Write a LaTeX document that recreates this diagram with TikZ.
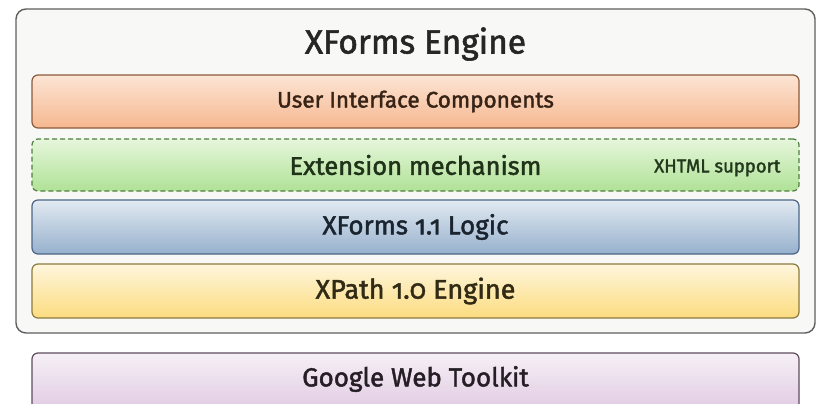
\documentclass[tikz,border=0pt]{standalone}
\usepackage{fontspec}
\setmainfont{Fira Sans}
\newfontfamily\layerfont{Fira Sans}[Numbers=OldStyle, FakeBold=1.7]
\usepackage{xcolor}
\usetikzlibrary{shadings}

\definecolor{frameline}{HTML}{5E6060}
\definecolor{framefill}{HTML}{F8F8F6}
\definecolor{uiline}{HTML}{8A5A3A}
\definecolor{uitop}{HTML}{FCE4D4}
\definecolor{uibot}{HTML}{F6B890}
\definecolor{extline}{HTML}{4F7F40}
\definecolor{exttop}{HTML}{E6F6DC}
\definecolor{extbot}{HTML}{B0E296}
\definecolor{logline}{HTML}{4A6686}
\definecolor{logtop}{HTML}{E2EAF2}
\definecolor{logbot}{HTML}{96B0CC}
\definecolor{xpline}{HTML}{8C7A3E}
\definecolor{xptop}{HTML}{FEF6DC}
\definecolor{xpbot}{HTML}{FCDC80}
\definecolor{gwtline}{HTML}{5E4C5E}
\definecolor{gwttop}{HTML}{F6F0F6}
\definecolor{gwtbot}{HTML}{E0CAE2}

\tikzset{
  layer/.style={rectangle, rounded corners=6pt, line width=1.2pt,
    minimum width=767pt, minimum height=53pt, inner sep=0pt,
    font=\layerfont\fontsize{#1}{#1}\selectfont},
  layer/.default=25.5,
}

\begin{document}
\begin{tikzpicture}[x=1pt, y=-1pt]
  \useasboundingbox (0,0) rectangle (817,404);
  \clip (0,0) rectangle (817,404);
  % engine frame
  \node[rectangle, rounded corners=10pt, draw=frameline, line width=1.4pt,
        fill=framefill, minimum width=799pt, minimum height=324pt]
        (engine) at (415.5,171) {};
  \node[font=\layerfont\fontsize{33.5}{36}\selectfont, text=black!85] (title) at (415.5,44) {XForms Engine};
  % layers
  \node[layer=22.5, draw=uiline, top color=uitop, bottom color=uibot, text=uiline!40!black]
        (ui) at (415.5,101.5) {User Interface Components};
  \node[layer, draw=extline, dash pattern=on 5pt off 3pt, top color=exttop, bottom color=extbot,
        text=extline!40!black, minimum height=52pt] (ext) at (415.5,165) {Extension mechanism};
  \node[font=\layerfont\fontsize{18.5}{20}\selectfont, text=extline!45!black, anchor=east]
        (xhtml) at (784,168) {XHTML support};
  \node[layer=26, draw=logline, top color=logtop, bottom color=logbot, text=logline!35!black,
        minimum height=54pt] (logic) at (415.5,227) {XForms 1.1 Logic};
  \node[layer=27, draw=xpline, top color=xptop, bottom color=xpbot, text=xpline!35!black,
        minimum height=54pt] (xpath) at (415.5,291) {XPath 1.0 Engine};
  % toolkit below the frame
  \node[layer, draw=gwtline, top color=gwttop, bottom color=gwtbot,
        minimum height=58pt] (gwt) at (415.5,382) {};
  \node[font=\layerfont\fontsize{26}{28}\selectfont, text=gwtline!40!black] (gwtlabel) at (415.5,379) {Google Web Toolkit};
\end{tikzpicture}
\end{document}
